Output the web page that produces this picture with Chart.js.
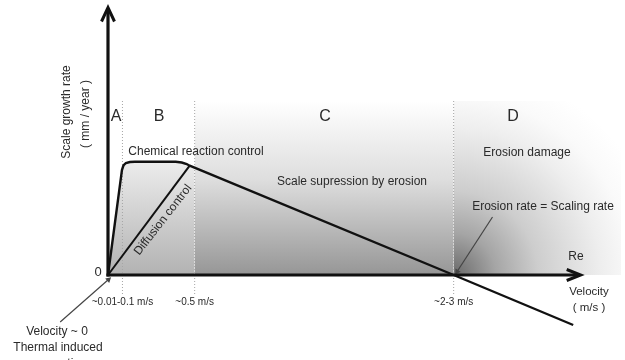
<!DOCTYPE html>
<html>
<head>
<meta charset="utf-8">
<script src="https://cdn.jsdelivr.net/npm/chart.js@4/dist/chart.umd.min.js"></script>
<style>
    html, body { margin: 0; padding: 0; background: #fff; }
    #chart { display: block; }
</style>
</head>
<body>
<canvas id="chart" width="625" height="360"></canvas>
<script>
// velocity (schematic units) where the regimes change, and their tick labels
const regimeEdges = [2.9, 17.4, 69.4];
const edgeLabels = ['~0.01-0.1 m/s', '~0.5 m/s', '~2-3 m/s'];
const regimeNames = ['A', 'B', 'C', 'D'];

// scale growth rate curve (chemical reaction control, then erosion)
const chemVelocity = [0, 2.8, 3.1, 3.6, 4.4, 5.4, 13.6, 14.8, 15.8, 16.4, 69.4, 93.4];
const chemRate = [0, 21, 21.9, 22.4, 22.6, 22.66, 22.66, 22.5, 22.2, 21.86, 0, -10];

// diffusion control line
const diffVelocity = [0, 16.4];
const diffRate = [0, 21.86];

const shadeTop = 34.8;
const dotBottom = -4;

function pts(xs, ys) {
    return xs.map((x, i) => ({ x: x, y: ys[i] }));
}

// curve part inside regimes A and B (used for the grey fill)
const abX = chemVelocity.slice(0, 10).concat([regimeEdges[1]]);
const abY = chemRate.slice(0, 10).concat([21.86 - 0.4125 * (regimeEdges[1] - 16.4)]);

function verticalGrad(chart, yTop, stops) {
    const area = chart.chartArea;
    if (!area) return 'rgba(0,0,0,0)';
    const ys = chart.scales.y;
    const g = chart.ctx.createLinearGradient(0, ys.getPixelForValue(yTop), 0, ys.getPixelForValue(0));
    stops.forEach(s => g.addColorStop(s[0], s[1]));
    return g;
}

function radialGrad(chart) {
    const area = chart.chartArea;
    if (!area) return 'rgba(0,0,0,0)';
    const cx = chart.scales.x.getPixelForValue(regimeEdges[2]);
    const cy = chart.scales.y.getPixelForValue(0);
    const g = chart.ctx.createRadialGradient(cx, cy, 0, cx, cy, 210);
    g.addColorStop(0, 'rgb(105,105,105)');
    g.addColorStop(0.2, 'rgb(165,165,165)');
    g.addColorStop(0.4, 'rgb(205,205,205)');
    g.addColorStop(0.7, 'rgb(238,238,238)');
    g.addColorStop(0.85, 'rgb(250,250,250)');
    g.addColorStop(1, 'rgb(255,255,255)');
    return g;
}

const datasets = [];

// axes with arrow heads
datasets.push({ data: pts([0, 0], [-0.3, 53.4]), borderColor: '#111', borderWidth: 3.2, order: 0 });
datasets.push({ data: pts([-0.3, 94.6], [0, 0]), borderColor: '#111', borderWidth: 3.2, order: 0 });
datasets.push({ data: pts([-1.3, 0, 1.3], [50.7, 53.5, 50.7]), borderColor: '#111', borderWidth: 3, order: 0 });
datasets.push({ data: pts([92.1, 94.9, 92.1], [1.1, 0, -1.1]), borderColor: '#111', borderWidth: 3, order: 0 });

// curves
datasets.push({ data: pts(chemVelocity, chemRate), borderColor: '#111', borderWidth: 2.4, order: 1 });
datasets.push({ data: pts(diffVelocity, diffRate), borderColor: '#111', borderWidth: 2, order: 1 });

// annotation arrows
datasets.push({
    data: pts([-9.6, 0.1], [-9.4, -0.9]), borderColor: '#444', borderWidth: 1.2, order: 1,
    pointRadius: [0, 3.5], pointStyle: 'triangle', pointRotation: 48.7,
    pointBackgroundColor: '#444', pointBorderWidth: 0
});
datasets.push({
    data: pts([77.2, 70.1], [11.6, 0.7]), borderColor: '#444', borderWidth: 1.2, order: 1,
    pointRadius: [0, 3.5], pointStyle: 'triangle', pointRotation: 213,
    pointBackgroundColor: '#444', pointBorderWidth: 0
});

// dotted regime boundaries
regimeEdges.forEach(v => {
    datasets.push({
        data: pts([v, v], [shadeTop, dotBottom]), borderColor: '#a5a5a5', borderWidth: 1,
        borderDash: [1, 2], order: 2
    });
});

// shading
datasets.push({
    data: pts(abX, abY), borderWidth: 0, borderColor: 'rgba(0,0,0,0)', fill: 'origin', order: 5,
    backgroundColor: c => verticalGrad(c.chart, 22.7, [[0, 'rgb(236,236,236)'], [1, 'rgb(178,178,178)']])
});
datasets.push({
    data: pts([regimeEdges[1], regimeEdges[2]], [shadeTop, shadeTop]), borderWidth: 0,
    borderColor: 'rgba(0,0,0,0)', fill: 'origin', order: 5,
    backgroundColor: c => verticalGrad(c.chart, shadeTop, [[0, 'rgb(255,255,255)'], [0.45, 'rgb(222,222,222)'], [1, 'rgb(150,150,150)']])
});
datasets.push({
    data: pts([regimeEdges[2], 103], [shadeTop, shadeTop]), borderWidth: 0,
    borderColor: 'rgba(0,0,0,0)', fill: 'origin', order: 5,
    backgroundColor: c => radialGrad(c.chart)
});

datasets.forEach(d => {
    d.showLine = true;
    d.clip = false;
    if (d.pointRadius === undefined) d.pointRadius = 0;
    d.tension = 0;
});

const labelsPlugin = {
    id: 'labels',
    afterDatasetsDraw(chart) {
        const c = chart.ctx;
        const xs = chart.scales.x;
        const font = size => size + 'px "Liberation Sans", Arial, sans-serif';
        c.save();
        c.fillStyle = '#2a2a2a';
        c.textAlign = 'center';
        c.textBaseline = 'middle';

        function text(t, x, y, size, rot) {
            c.save();
            c.font = font(size);
            c.translate(x, y);
            if (rot) c.rotate(rot * Math.PI / 180);
            c.fillText(t, 0, 0);
            c.restore();
        }

        // regime letters
        const letterX = [116, 159, 325, 513];
        regimeNames.forEach((n, i) => text(n, letterX[i], 117, 16));

        // velocity tick labels at the boundaries
        edgeLabels.forEach((l, i) => text(l, xs.getPixelForValue(regimeEdges[i]), 302, 10));

        text('0', 98, 272, 13);
        text('Scale growth rate', 67, 112, 12, -90);
        text('( mm / year )', 86, 114, 12, -90);
        text('Chemical reaction control', 196, 152, 12);
        text('Diffusion control', 163, 220, 12, -52);
        text('Scale supression by erosion', 352, 182, 12);
        text('Erosion damage', 527, 153, 12);
        text('Erosion rate = Scaling rate', 543, 207, 12);
        text('Re', 576, 257, 12);
        text('Velocity', 589, 292, 11.5);
        text('( m/s )', 589, 308, 11.5);
        text('Velocity ~ 0', 57, 332, 12);
        text('Thermal induced', 58, 348, 12);
        text('convection', 58, 364, 12);
        c.restore();
    }
};

new Chart(document.getElementById('chart').getContext('2d'), {
    type: 'scatter',
    data: { datasets: datasets },
    options: {
        responsive: false,
        animation: false,
        events: [],
        layout: { padding: { left: 108, right: 2, top: 5, bottom: 15 } },
        scales: {
            x: { type: 'linear', min: 0, max: 103, display: false },
            y: { type: 'linear', min: -14, max: 54, display: false }
        },
        plugins: {
            legend: { display: false },
            tooltip: { enabled: false }
        }
    },
    plugins: [labelsPlugin]
});
</script>
</body>
</html>
